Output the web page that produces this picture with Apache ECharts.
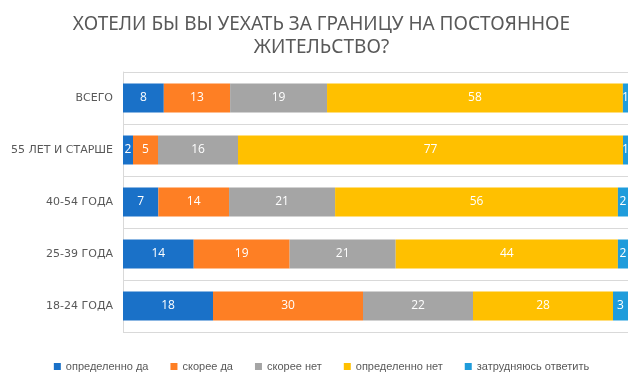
<!DOCTYPE html>
<html>
<head>
<meta charset="utf-8">
<script src="https://cdn.jsdelivr.net/npm/echarts@6/dist/echarts.min.js"></script>
<style>
html, body { margin: 0; padding: 0; background: #fff; }
#chart { width: 643px; height: 377px; }
</style>
</head>
<body>
<div id="chart"></div>
<script>
// категории сверху вниз
var categories = ['ВСЕГО', '55 ЛЕТ И СТАРШЕ', '40-54 ГОДА', '25-39 ГОДА', '18-24 ГОДА'];

var opredelennoDa = [8, 2, 7, 14, 18];
var skoreeDa = [13, 5, 14, 19, 30];
var skoreeNet = [19, 16, 21, 21, 22];
var opredelennoNet = [58, 77, 56, 44, 28];
var zatrudnyayus = [1, 1, 2, 2, 3];

var seriesNames = ['определенно да', 'скорее да', 'скорее нет', 'определенно нет', 'затрудняюсь ответить'];
var colors = ['#1a71c8', '#fe7f24', '#a5a5a5', '#ffc000', '#1f9cdb'];

(function(){
	var chart = echarts.init(document.getElementById('chart'));
	var raw = [opredelennoDa, skoreeDa, skoreeNet, opredelennoNet, zatrudnyayus];

	// 100% stacked: каждая строка нормируется на свою сумму
	var totals = categories.map(function(c, i){
		var s = 0;
		raw.forEach(function(arr){ s += arr[i]; });
		return s;
	});

	var series = raw.map(function(arr, k){
		return {
			name: seriesNames[k],
			type: 'bar',
			stack: 'total',
			barWidth: 29,
			itemStyle: { color: colors[k] },
			label: {
				show: true,
				position: 'inside',
				color: '#fff',
				fontSize: 12,
				fontFamily: 'Open Sans',
				formatter: function(p){ return arr[p.dataIndex]; }
			},
			data: arr.map(function(v, i){ return v / totals[i] * 100; })
		};
	});

	var option = {
		color: colors,
		title: {
			text: 'ХОТЕЛИ БЫ ВЫ УЕХАТЬ ЗА ГРАНИЦУ НА ПОСТОЯННОЕ\nЖИТЕЛЬСТВО?',
			left: 'center',
			top: 8,
			textStyle: {
				fontFamily: 'Noto Sans',
				fontWeight: 'normal',
				fontSize: 19,
				lineHeight: 23,
				color: '#595959'
			}
		},
		legend: {
			top: 356,
			left: 'center',
			icon: 'rect',
			itemWidth: 7,
			itemHeight: 7,
			itemGap: 22,
			data: seriesNames,
			textStyle: { color: '#595959', fontSize: 11, fontFamily: 'Liberation Sans' }
		},
		grid: { left: 123, right: 15, top: 72, bottom: 45 },
		xAxis: {
			type: 'value',
			min: 0,
			max: 100,
			show: false
		},
		yAxis: {
			type: 'category',
			inverse: true,
			data: categories,
			axisLine: { show: true, lineStyle: { color: '#d9d9d9' } },
			axisTick: { show: false },
			splitLine: { show: true, lineStyle: { color: '#d9d9d9' } },
			axisLabel: { color: '#595959', fontSize: 11, margin: 10, fontFamily: 'DejaVu Sans' }
		},
		series: series
	};

	chart.setOption(option);
})();
</script>
</body>
</html>
